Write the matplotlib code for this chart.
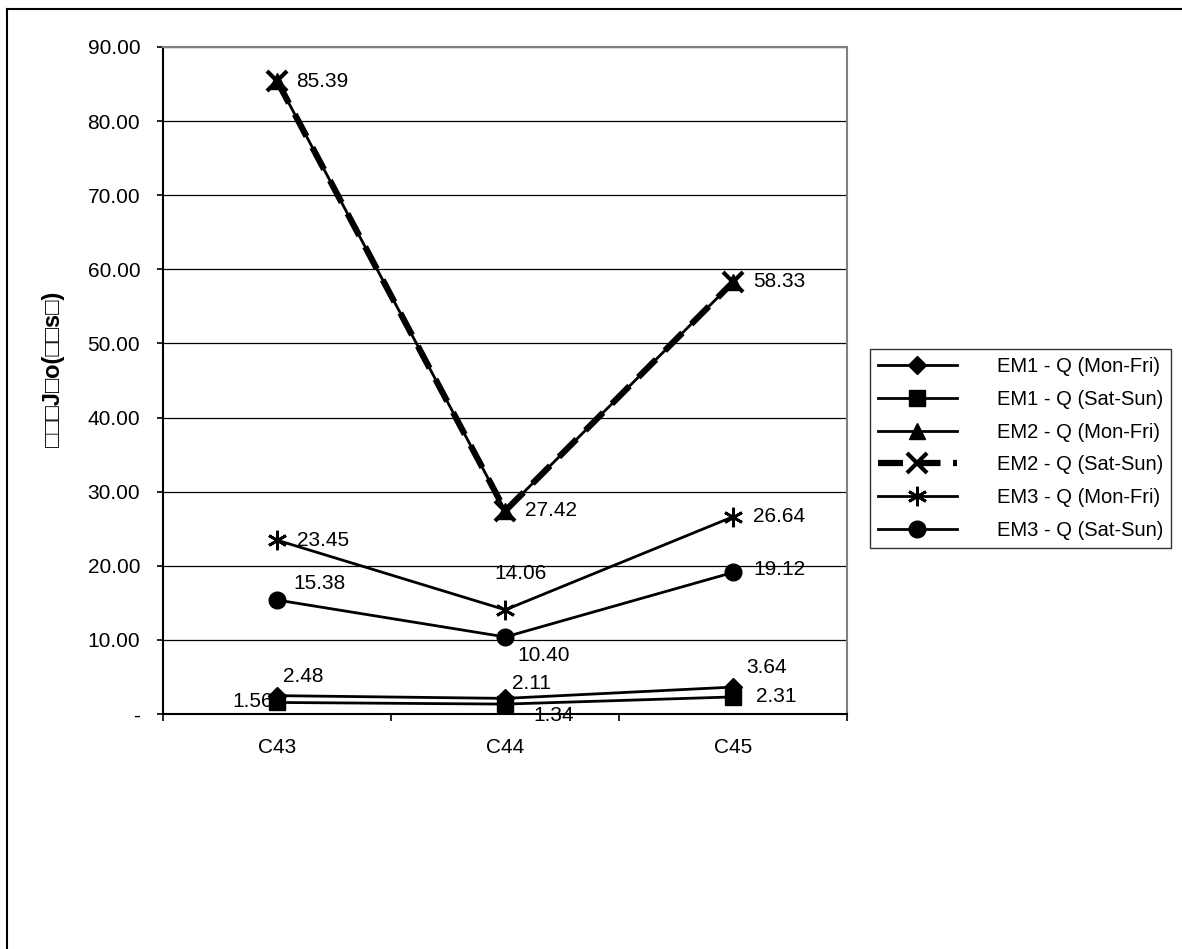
import numpy as np
import matplotlib.pyplot as plt
from matplotlib.lines import Line2D

categories = ['C43', 'C44', 'C45']
series_names = ['EM1 - Q (Mon-Fri)', 'EM1 - Q (Sat-Sun)', 'EM2 - Q (Mon-Fri)',
                'EM2 - Q (Sat-Sun)', 'EM3 - Q (Mon-Fri)', 'EM3 - Q (Sat-Sun)']
em1_weekday = [2.48, 2.11, 3.64]
em1_weekend = [1.56, 1.34, 2.31]
em2_weekday = [85.39, 27.42, 58.33]
em2_weekend = [85.39, 27.42, 58.33]
em3_weekday = [23.45, 14.06, 26.64]
em3_weekend = [15.38, 10.40, 19.12]
y_ticks = [0, 10, 20, 30, 40, 50, 60, 70, 80, 90]
y_label = '\u25a1\u25a1\u25a1J\u25a1o(\u25a1\u25a1s\u25a1)'

plt.rcParams['font.family'] = ['Liberation Sans', 'DejaVu Sans']
FS = 15

fig = plt.figure(figsize=(11.82, 9.49), dpi=100)
ax = fig.add_axes([0.138, 0.2476, 0.579, 0.7029])
x = np.arange(len(categories))

styles = [
    dict(marker='D', markersize=9, lw=2),
    dict(marker='s', markersize=11, lw=2),
    dict(marker='^', markersize=12, lw=2),
    dict(marker='x', markersize=14, mew=3, lw=4.5, ls=(0, (4, 2))),
    dict(marker=(6, 2, 0), markersize=14, mew=2, lw=2),
    dict(marker='o', markersize=12, lw=2),
]
data = [em1_weekday, em1_weekend, em2_weekday, em2_weekend, em3_weekday, em3_weekend]
handles = []
for vals, st in zip(data, styles):
    line, = ax.plot(x, vals, color='black', mfc='black', mec='black', zorder=3, **st)
    handles.append(line)


# data labels, offsets in points
def lab(xi, v, dx, dy, ha='left'):
    ax.annotate('%.2f' % v, (xi, v), xytext=(dx, dy), textcoords='offset points',
                fontsize=FS, ha=ha, va='center', zorder=4)


for i, v in enumerate(em2_weekend):
    lab(i, v, 14, 0)
lab(0, em3_weekday[0], 14, 0)
lab(1, em3_weekday[1], -8, 26)
lab(2, em3_weekday[2], 14, 0)
lab(0, em3_weekend[0], 12, 12)
lab(1, em3_weekend[1], 9, -13)
lab(2, em3_weekend[2], 14, 2)
lab(0, em1_weekday[0], 4, 14)
lab(1, em1_weekday[1], 5, 11)
lab(2, em1_weekday[2], 9, 14)
lab(0, em1_weekend[0], -3, 1, ha='right')
lab(1, em1_weekend[1], 20, -8)
lab(2, em1_weekend[2], 16, 0)

ax.set_xlim(-0.5, 2.5)
ax.set_ylim(0, 90)
ax.set_yticks(y_ticks)
ax.set_yticklabels(['-'] + ['%.2f' % t for t in y_ticks[1:]], fontsize=FS)
ax.yaxis.grid(True, color='black', lw=0.9)
ax.set_axisbelow(True)
ax.set_xticks([-0.5, 0.5, 1.5, 2.5])
ax.set_xticklabels([])
ax.set_xticks(x, minor=True)
ax.set_xticklabels(categories, minor=True, fontsize=FS)
ax.tick_params(axis='x', which='minor', length=0, pad=17)
ax.tick_params(axis='x', which='major', length=5, width=1.2, direction='out')
ax.tick_params(axis='y', length=4.5, width=1.2, direction='out', pad=12)
for s in ['top', 'right']:
    ax.spines[s].set_color('#808080')
    ax.spines[s].set_linewidth(1.5)
for s in ['left', 'bottom']:
    ax.spines[s].set_color('black')
    ax.spines[s].set_linewidth(1.5)

fig.text(0.045, 0.611, y_label, rotation=90, fontsize=17, fontweight='bold',
         ha='center', va='center')

leg = fig.legend(handles, series_names, loc='upper left', bbox_to_anchor=(0.736, 0.632),
                 borderaxespad=0, fontsize=14.5, frameon=True, fancybox=False,
                 edgecolor='black', handlelength=3.9, handletextpad=2.0,
                 borderpad=0.4, labelspacing=0.68)
leg.get_frame().set_linewidth(1.0)

# outer frame (left and top edges)
fig.add_artist(Line2D([0.006, 0.006], [0, 0.99], color='black', lw=1.5, transform=fig.transFigure))
fig.add_artist(Line2D([0.006, 1.0], [0.99, 0.99], color='black', lw=1.5, transform=fig.transFigure))

fig.savefig('out.png', dpi=100)
